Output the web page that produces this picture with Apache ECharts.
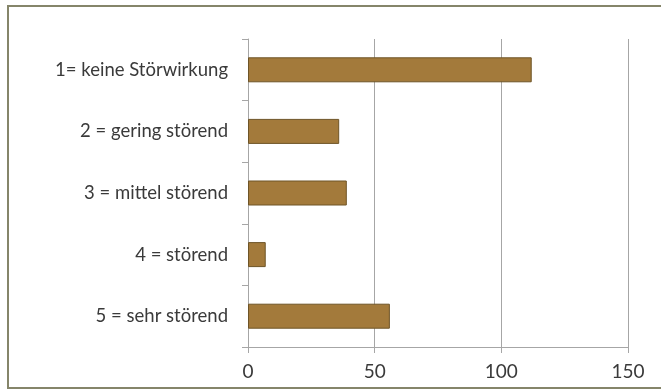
<!DOCTYPE html>
<html>
<head>
<meta charset="utf-8">
<script src="https://cdn.jsdelivr.net/npm/echarts@6/dist/echarts.min.js"></script>
<style>
  html, body { margin: 0; padding: 0; background: #ffffff; }
  #chart { width: 661px; height: 390px; }
</style>
</head>
<body>
<div id="chart"></div>
<script>
// Ratings of disturbance, top to bottom
const categories = [
  '1= keine Störwirkung',
  '2 = gering störend',
  '3 = mittel störend',
  '4 = störend',
  '5 = sehr störend'
];
const counts = [112, 36, 39, 7, 56];
const axisTicks = [0, 50, 100, 150];

const chart = echarts.init(document.getElementById('chart'));
const labelFont = 'Lato, "Open Sans", sans-serif';

chart.setOption({
  animation: false,
  backgroundColor: '#ffffff',
  graphic: [{
    type: 'rect',
    shape: { x: 8, y: 6, width: 720, height: 382 },
    style: { fill: 'none', stroke: '#85856a', lineWidth: 2 },
    silent: true,
    z: 100
  }],
  grid: { left: 248, right: 33, top: 39, bottom: 43, containLabel: false },
  xAxis: {
    type: 'value',
    min: axisTicks[0],
    max: axisTicks[axisTicks.length - 1],
    interval: axisTicks[1] - axisTicks[0],
    axisLine: { show: true, lineStyle: { color: '#a6a6a6', width: 1 } },
    axisTick: { show: true, length: 6, lineStyle: { color: '#a6a6a6' } },
    splitLine: { show: true, lineStyle: { color: '#a6a6a6', width: 1 } },
    axisLabel: { color: '#3a3a3a', fontSize: 19, fontFamily: labelFont, margin: 15 }
  },
  yAxis: {
    type: 'category',
    data: categories,
    inverse: true,
    axisLine: { show: true, lineStyle: { color: '#a6a6a6', width: 1 } },
    axisTick: { show: true, length: 6, lineStyle: { color: '#a6a6a6' } },
    axisLabel: { color: '#3a3a3a', fontSize: 18.5, fontFamily: labelFont, margin: 20 }
  },
  series: [{
    type: 'bar',
    data: counts,
    barWidth: 25,
    itemStyle: { color: '#a37a3b', borderColor: '#6e5427', borderWidth: 1 }
  }]
});
</script>
</body>
</html>
